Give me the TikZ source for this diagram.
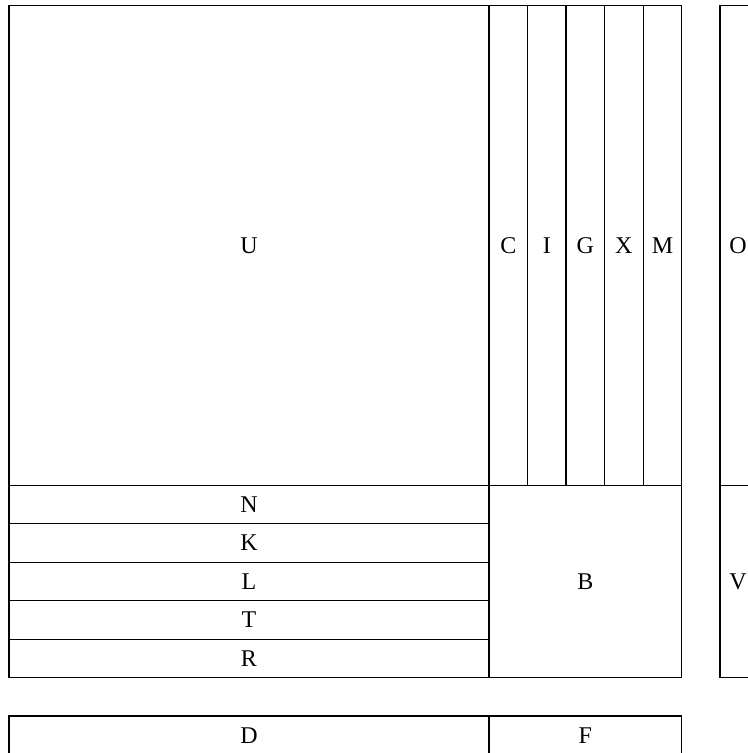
\documentclass[tikz,border=0pt]{standalone}
\usepackage{fontspec}
\setmainfont{Liberation Serif}
\usetikzlibrary{fit}
\tikzset{
  cell/.style={draw=black,line width=1pt,inner sep=0pt,
    label={[tag]center:#1}},
  tag/.style={inner sep=0pt,font=\fontsize{18pt}{20pt}\selectfont}
}

\begin{document}
\begin{tikzpicture}[x=0.75pt,y=-0.75pt]
  \useasboundingbox (0,0) rectangle (748,753);
  \clip (0,0) rectangle (748,753);
  % upper block
  \node[cell=U,fit={(9,5.5) (489,485.3)}] (U) {};
  \node[cell=C,fit={(489,5.5) (527.5,485.3)}] (C) {};
  \node[cell=I,fit={(527.5,5.5) (566.1,485.3)}] (I) {};
  \node[cell=G,fit={(566.1,5.5) (604.6,485.3)}] (G) {};
  \node[cell=X,fit={(604.6,5.5) (643.2,485.3)}] (X) {};
  \node[cell=M,fit={(643.2,5.5) (681.7,485.3)}] (M) {};
  % rows under U
  \node[cell=N,fit={(9,485.3) (489,523.8)}] (N) {};
  \node[cell=K,fit={(9,523.8) (489,562.3)}] (K) {};
  \node[cell=L,fit={(9,562.3) (489,600.8)}] (L) {};
  \node[cell=T,fit={(9,600.8) (489,639.2)}] (T) {};
  \node[cell=R,fit={(9,639.2) (489,677.7)}] (R) {};
  \node[cell=B,fit={(489,485.3) (681.7,677.7)}] (B) {};
  % right block, cut by the edge
  \draw[line width=1pt] (720,5.5) rectangle (800,485.3);
  \draw[line width=1pt] (720,485.3) rectangle (800,677.7);
  \node[tag] (O) at (738,245.4) {O};
  \node[tag] (V) at (738,581.5) {V};
  % bottom strip
  \node[cell=D,fit={(9,716) (489,754.5)}] (D) {};
  \node[cell=F,fit={(489,716) (681.7,754.5)}] (F) {};
\end{tikzpicture}
\end{document}
